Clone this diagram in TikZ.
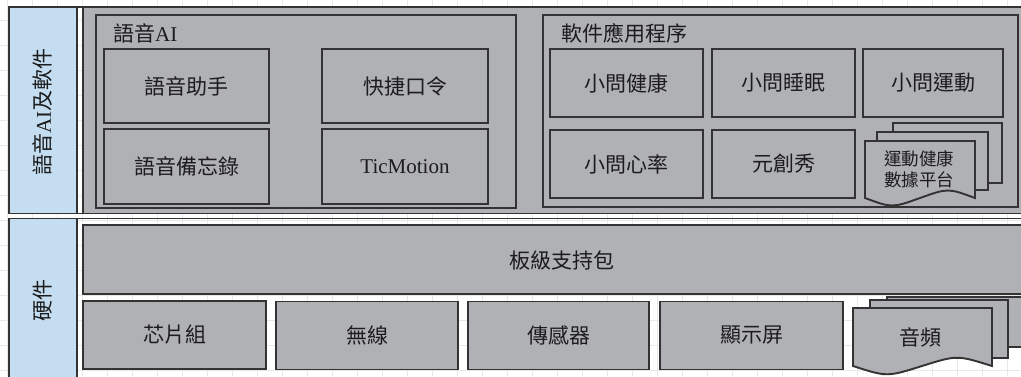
\documentclass[tikz,border=0pt]{standalone}
\usepackage{fontspec}
\setmainfont{Liberation Serif}
\newfontfamily\cjk{Noto Sans CJK TC}
\definecolor{panelgrey}{RGB}{176,177,181}
\definecolor{lanebl}{RGB}{196,221,241}
\definecolor{edge}{RGB}{51,51,51}
\definecolor{ink}{RGB}{28,28,28}
\definecolor{gridc}{RGB}{232,232,232}
\newcommand\boxfont{\fontsize{21}{25}\selectfont\cjk}
\newcommand\smallboxfont{\fontsize{17.5}{21}\selectfont\cjk}
\tikzset{
  gridline/.style={draw=gridc, line width=0.7pt},
  frameline/.style={draw=edge, line width=1.6pt},
  lane/.style={draw=edge, fill=lanebl, line width=1.6pt, inner sep=0pt},
  panel/.style={draw=edge, fill=panelgrey, line width=1.6pt, inner sep=0pt},
  group/.style={draw=edge, fill=panelgrey, line width=1.9pt, inner sep=0pt},
  box/.style={draw=edge, fill=panelgrey, line width=1.9pt, inner sep=0pt, text=ink, font=\boxfont},
  sheet/.style={draw=edge, fill=panelgrey, line width=1.9pt, line join=miter},
  lanetext/.style={text=ink, font=\boxfont, rotate=90, inner sep=0pt},
  titletext/.style={text=ink, font=\boxfont, anchor=west, inner sep=0pt},
  doctext/.style={text=ink, font=\smallboxfont, align=center, inner sep=0pt},
}
\begin{document}
\begin{tikzpicture}[x=1pt,y=-1pt]
\useasboundingbox (0,0) rectangle (1021,376);
\clip (0,0) rectangle (1021,376);
\fill[white] (0,0) rectangle (1021,376);
% faint background grid
\foreach \gx in {7,32,...,1021} \draw[gridline] (\gx,0) -- (\gx,376);
\foreach \gy in {20,45,...,376} \draw[gridline] (0,\gy) -- (1021,\gy);

% lanes (left blue cells)
\node[lane, minimum width=68pt, minimum height=206pt] (laneA) at (43,110.5) {};
\node[lanetext] (laneAt) at (43,112) {{\cjk 語音}{\rmfamily AI}{\cjk 及軟件}};
\node[lane, minimum width=68pt, minimum height=180pt] (laneB) at (43,308.5) {};
\node[lanetext] (laneBt) at (43,300) {硬件};

% frame lines
\draw[frameline] (8,7) -- (1030,7);
\draw[frameline] (8,213.5) -- (1030,213.5);
\draw[frameline] (8,218.5) -- (1030,218.5);

% top grey panel
\node[panel, minimum width=962pt, minimum height=206pt] (panelA) at (564,110.5) {};

% group: voice AI
\node[group, minimum width=420pt, minimum height=193pt] (grpAI) at (306,111.5) {};
\node[titletext] (grpAIt) at (113,33) {{\cjk 語音}{\rmfamily AI}};
\node[box, minimum width=165pt, minimum height=74pt] (assist) at (186.5,86) {語音助手};
\node[box, minimum width=165pt, minimum height=75pt] (memo) at (186.5,166.5) {語音備忘錄};
\node[box, minimum width=166pt, minimum height=74pt] (quick) at (405,86) {快捷口令};
\node[box, minimum width=166pt, minimum height=75pt] (ticm) at (405,166.5) {\rmfamily TicMotion};

% group: apps
\node[group, minimum width=475pt, minimum height=192pt] (grpApp) at (780.5,111) {};
\node[titletext] (grpAppt) at (561,33) {軟件應用程序};
\node[box, minimum width=153pt, minimum height=68pt] (health) at (626.5,83) {小問健康};
\node[box, minimum width=143pt, minimum height=68pt] (sleep) at (783.5,83) {小問睡眠};
\node[box, minimum width=140pt, minimum height=68pt] (sport) at (933,83) {小問運動};
\node[box, minimum width=153pt, minimum height=68pt] (heart) at (626.5,164) {小問心率};
\node[box, minimum width=143pt, minimum height=68pt] (yuan) at (783.5,164) {元創秀};
% multi document: sports health data platform
\draw[sheet] (893,123) rectangle (1002,183);
\draw[sheet] (877,132) rectangle (988,190);
\draw[sheet] (865,141) -- (975,141) -- (975,198) .. controls (948,188) .. (920,198) .. controls (892,208) .. (865,198) -- cycle;
\node[doctext] (platform) at (919,169) {運動健康\\數據平台};

% hardware
\node[box, minimum width=958pt, minimum height=69pt] (bsp) at (562,259.5) {};
\node[text=ink, font=\boxfont, inner sep=0pt] (bspt) at (562,260) {板級支持包};
\node[box, minimum width=183pt, minimum height=68pt] (chip) at (174.5,335) {芯片組};
\node[box, minimum width=182pt, minimum height=68pt] (wifi) at (367,335.5) {無線};
\node[box, minimum width=181pt, minimum height=68pt] (sensor) at (558.5,335.5) {傳感器};
\node[box, minimum width=183pt, minimum height=68pt] (screen) at (751.5,335.5) {顯示屏};
% multi document: audio
\draw[sheet] (887,297) rectangle (1032,347);
\draw[sheet] (870,300) rectangle (1008,358);
\draw[sheet] (853,308) -- (992,308) -- (992,366) .. controls (957,355) .. (922,366) .. controls (887,377) .. (853,366) -- cycle;
\node[text=ink, font=\boxfont, inner sep=0pt] (audio) at (920,337) {音頻};
\end{tikzpicture}
\end{document}
